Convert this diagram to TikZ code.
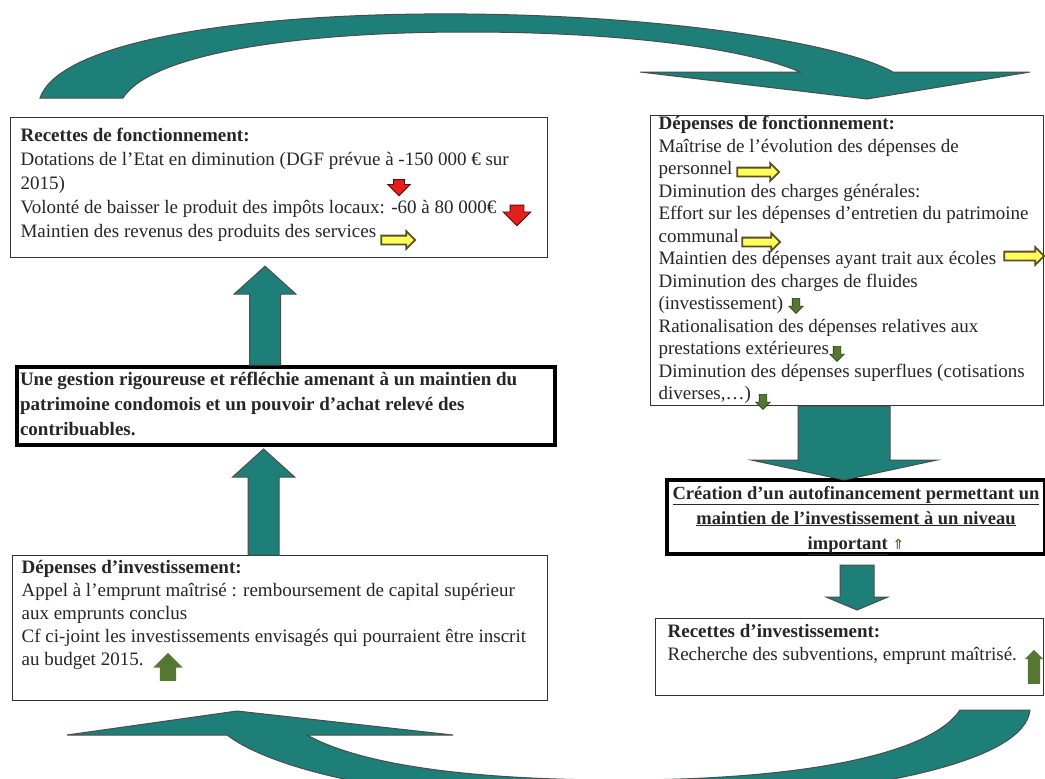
\documentclass[tikz,border=0pt]{standalone}
\usepackage{fontspec}
\setmainfont{Liberation Serif}
\newfontfamily\symb{DejaVu Sans}
\usetikzlibrary{shapes.arrows, calc, positioning}
\definecolor{bleucanard}{RGB}{30,126,120}
\definecolor{vertfl}{RGB}{84,120,52}
\definecolor{rougefl}{RGB}{228,32,28}
\definecolor{jaunefl}{RGB}{255,255,90}
\definecolor{bordjaune}{RGB}{92,76,42}

\newcommand{\cadre}[5]{\parbox[c][#2][t]{#1}{#4\vspace*{#3}\rule{0pt}{15pt}#5}}
\newcommand{\blocfleche}[5]{%
  \draw[courbe] let \p1=#1, \p2=#2 in
    ({\x1-#3pt},\y1) -- ({\x1-#3pt},{\y2-(#5pt)}) -- ({\x1-#4pt},{\y2-(#5pt)}) -- (\x1,\y2)
    -- ({\x1+#4pt},{\y2-(#5pt)}) -- ({\x1+#3pt},{\y2-(#5pt)}) -- ({\x1+#3pt},\y1) -- cycle;}

\begin{document}
\begin{tikzpicture}[x=1pt, y=-1pt,
    boite/.style={draw=black!80, line width=1.2pt, anchor=north west, inner ysep=0pt, text=black!85},
    epais/.style={boite, draw=black, line width=4pt},
    courbe/.style={fill=bleucanard, draw=black!70, line width=1pt},
    rouge/.style={single arrow, shape border rotate=270, fill=rougefl, draw=rougefl!40!black, line width=0.8pt},
    jaune/.style={single arrow, fill=jaunefl, draw=bordjaune, line width=1.8pt, inner sep=3.5pt, minimum height=34pt, single arrow head extend=4.5pt},
    vertbas/.style={single arrow, shape border rotate=270, fill=vertfl, draw=vertfl!50!black, line width=0.6pt, inner sep=3.5pt, minimum height=15pt, single arrow head extend=3.5pt},
    verthaut/.style={single arrow, shape border rotate=90, fill=vertfl}]

  \useasboundingbox (0,0) rectangle (1045,779);
  \fill[white] (0,0) rectangle (1045,779);
  \clip (0,0) rectangle (1045,779);

  \draw[courbe] (40,98) .. controls (60,40) and (250,12) .. (467,14) .. controls (680,16) and (845,45) .. (893,72)
    -- (1030,72) -- (867,99) -- (640,72) -- (800,72)
    .. controls (745,48) and (620,32) .. (467,32) .. controls (290,32) and (150,55) .. (123,98) -- cycle;

  \draw[courbe] (1030,710) .. controls (1025,760) and (880,795) .. (640,805) .. controls (430,805) and (280,775) .. (227,735)
    -- (67,735) -- (237,711) -- (453,735) -- (307,735)
    .. controls (370,770) and (500,780) .. (620,780) .. controls (800,780) and (930,755) .. (960,710) -- cycle;

  \node[boite, inner xsep=10pt, font=\fontsize{19}{24}\selectfont] (recf) at (10,117)
    {\cadre{517pt}{140pt}{9pt}{\raggedright}{\textbf{Recettes de fonctionnement:}\\
      Dotations de l'Etat en diminution (DGF prévue à -150 000 € sur\\
      2015)\\
      Volonté de baisser le produit des impôts locaux: -60 à 80 000€\\
      Maintien des revenus des produits des services}};

  \node[epais, inner xsep=3pt, font=\bfseries\fontsize{19}{25}\selectfont] (gest) at (15,365)
    {\cadre{532pt}{78pt}{3pt}{\raggedright}{Une gestion rigoureuse et réfléchie amenant à un maintien du\\
      patrimoine condomois et un pouvoir d'achat relevé des\\
      contribuables.}};

  \node[boite, inner xsep=9pt, font=\fontsize{19}{23}\selectfont] (inv) at (12,555)
    {\cadre{517pt}{145pt}{3pt}{\raggedright}{\textbf{Dépenses d'investissement:}\\
      Appel à l'emprunt maîtrisé : remboursement de capital supérieur\\
      aux emprunts conclus\\
      Cf ci-joint les investissements envisagés qui pourraient être inscrit\\
      au budget 2015.}};

  \node[boite, inner xsep=8pt, font=\fontsize{19}{22.5}\selectfont] (dep) at (650,115)
    {\cadre{377pt}{290pt}{-1pt}{\raggedright}{\textbf{Dépenses de fonctionnement:}\\
      Maîtrise de l'évolution des dépenses de\\
      personnel\\
      Diminution des charges générales:\\
      Effort sur les dépenses d'entretien du patrimoine\\
      communal\\
      Maintien des dépenses ayant trait aux écoles\\
      Diminution des charges de fluides\\
      (investissement)\\
      Rationalisation des dépenses relatives aux\\
      prestations extérieures\\
      Diminution des dépenses superflues (cotisations\\
      diverses,…)}};

  \node[epais, inner xsep=2pt, font=\bfseries\fontsize{18.5}{25}\selectfont] (auto) at (665,478)
    {\cadre{374pt}{74pt}{4pt}{\centering}{\underline{Création d'un autofinancement permettant un}\\
      \underline{maintien de l'investissement à un niveau}\\
      \underline{important} {\symb\color{vertfl}\fontsize{14}{14}\selectfont ⇑}}};

  \node[boite, inner xsep=12pt, font=\fontsize{19}{23}\selectfont] (recinv) at (655,618)
    {\cadre{364pt}{77pt}{4pt}{\raggedright}{\textbf{Recettes d'investissement:}\\
      Recherche des subventions, emprunt maîtrisé.}};

  \blocfleche{($(gest.north)+(-21,0)$)}{($(recf.south)+(0,8)$)}{15.5}{31}{28}
  \blocfleche{($(inv.north)+(-16.5,0)$)}{($(gest.south)+(0,2)$)}{15.5}{31}{28}
  \blocfleche{($(dep.south)+(-3,0)$)}{($(auto.north)+(0,2)$)}{46}{93}{-20}
  \blocfleche{($(auto.south)+(1,9)$)}{($(recinv.north)+(0,-8)$)}{17}{31}{-13}

  \node[rouge, inner sep=5pt, minimum height=16pt, single arrow head extend=6pt] (r1) at (399,185) {};
  \node[rouge, inner sep=6.5pt, minimum height=18pt, single arrow head extend=7pt] (r2) at (517,212) {};
  \node[jaune] (j1) at (396,240) {};
  \node[jaune, minimum height=42pt] (j2) at (756,172) {};
  \node[jaune, minimum height=38pt] (j3) at (759,242) {};
  \node[jaune, minimum height=40pt] (j4) at (1022,256) {};
  \node[vertbas] (v1) at (796,304) {};
  \node[vertbas] (v2) at (837,352) {};
  \node[vertbas] (v3) at (763,400) {};
  \node[verthaut, inner sep=8pt, minimum height=28pt, single arrow head extend=6.5pt] (v4) at (168,671) {};
  \node[verthaut, inner sep=6pt, minimum height=34pt, single arrow head extend=3pt] (v5) at (1034,670) {};
\end{tikzpicture}
\end{document}
